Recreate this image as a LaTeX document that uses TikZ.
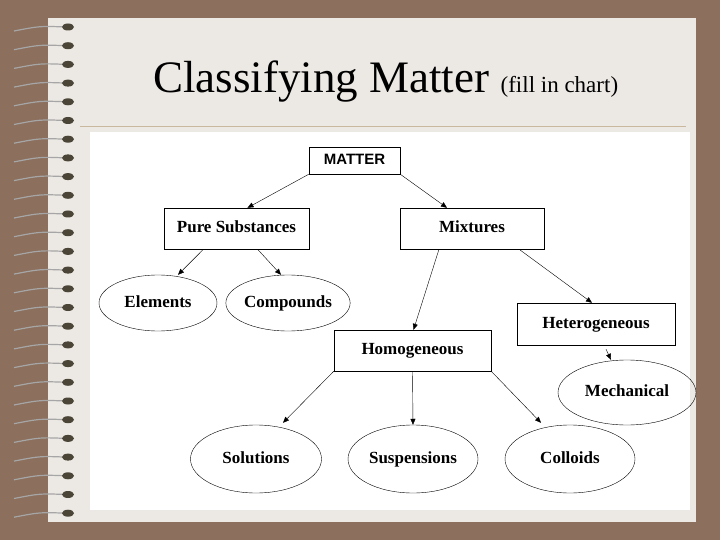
\documentclass[tikz,border=0pt]{standalone}
\usepackage{fontspec}
\setmainfont{Liberation Serif}
\newfontfamily\labelsans{Liberation Sans}
\usepackage{tikz}
\usetikzlibrary{positioning, shapes, calc, arrows.meta}
\definecolor{slidebrown}{HTML}{8C6F5C}
\definecolor{slidepaper}{HTML}{ECE8E3}
\definecolor{ruletan}{HTML}{C9B89E}
\definecolor{beaddark}{HTML}{4A4536}

\begin{document}
\begin{tikzpicture}[x=1pt, y=-1pt]
		\tikzstyle{catbox}=[draw=black, rectangle, minimum height=41pt, inner sep=2pt, text height=11pt, text depth=3pt, text=black, font=\fontsize{17}{19}\selectfont\bfseries]
		\tikzstyle{catoval}=[draw=black, ellipse, inner sep=0pt, text height=11pt, text depth=3pt, text=black, font=\fontsize{17}{19}\selectfont\bfseries]
		\tikzstyle{link}=[draw=black, -{Triangle[length=6pt, width=5pt]}]
		
		%% slide background
		\fill[slidebrown] (0,0) rectangle (720,540);
		\fill[slidepaper] (48,18) rectangle (696,522);
		\draw[ruletan, line width=1pt] (80,127) -- (686,127);
		\fill[white] (90,132) rectangle (690,510);
		
		%% spiral binding
		\foreach \k in {0,...,26} {
			\draw[gray!70, line width=1.2pt] (14,{31+18.7*\k}) .. controls (40,{26+18.7*\k}) .. (66,{27+18.7*\k});
			\fill[beaddark] (68,{27+18.7*\k}) ellipse (6pt and 3.5pt);
		}
		
		%% title
		\node[anchor=base west, inner sep=0pt] (title) at (153,93) {\fontsize{45}{50}\selectfont Classifying Matter \fontsize{23}{27}\selectfont(fill in chart)};
		
		%% chart
		\node[catbox, minimum width=91pt, minimum height=27pt, text height=10pt, text depth=1pt, font=\fontsize{15}{17}\selectfont\labelsans\bfseries] (matter) at (354.5,160.5) {MATTER};
		\node[catbox, minimum width=145pt] (pure) at (236.5,228.5) {Pure Substances};
		\node[catbox, minimum width=144pt] (mix) at (472,228.5) {Mixtures};
		\node[catoval, minimum width=118pt, minimum height=56pt] (elem) at (158,303) {Elements};
		\node[catoval, minimum width=117pt, minimum height=56pt] (comp) at (288,303) {Compounds};
		\node[catbox, minimum width=158pt, minimum height=42pt] (hetero) at (596,324) {Heterogeneous};
		\node[catbox, minimum width=157pt] (homog) at (412.5,350.5) {Homogeneous};
		\node[catoval, minimum width=138pt, minimum height=65pt] (mech) at (627,392.5) {Mechanical};
		\node[catoval, minimum width=131pt, minimum height=68pt] (sol) at (256,459) {Solutions};
		\node[catoval, minimum width=130pt, minimum height=68pt] (susp) at (413,459) {Suspensions};
		\node[catoval, minimum width=130pt, minimum height=68pt] (coll) at (570,459) {Colloids};
		
		\draw[link] (matter.south west) -- ([xshift=11pt]pure.north);
		\draw[link] (matter.south east) -- ([xshift=-25pt]mix.north);
		\draw[link] ([xshift=-33pt]pure.south) -- ([xshift=20pt]elem.north);
		\draw[link] ([xshift=21pt]pure.south) -- ([xshift=-7pt]comp.north);
		\draw[link] ([xshift=-33pt]mix.south) -- ([xshift=1pt]homog.north);
		\draw[link] ([xshift=47pt]mix.south) -- ([xshift=-4pt]hetero.north);
		\draw[link] ([xshift=10pt, yshift=-4pt]hetero.south) -- ([xshift=-16pt]mech.north);
		\draw[link] (homog.south west) -- ([xshift=27pt, yshift=2pt]sol.north);
		\draw[link] (homog.south) -- (susp.north);
		\draw[link] (homog.south east) -- ([xshift=-29pt, yshift=2pt]coll.north);
		
\end{tikzpicture}
\end{document}
